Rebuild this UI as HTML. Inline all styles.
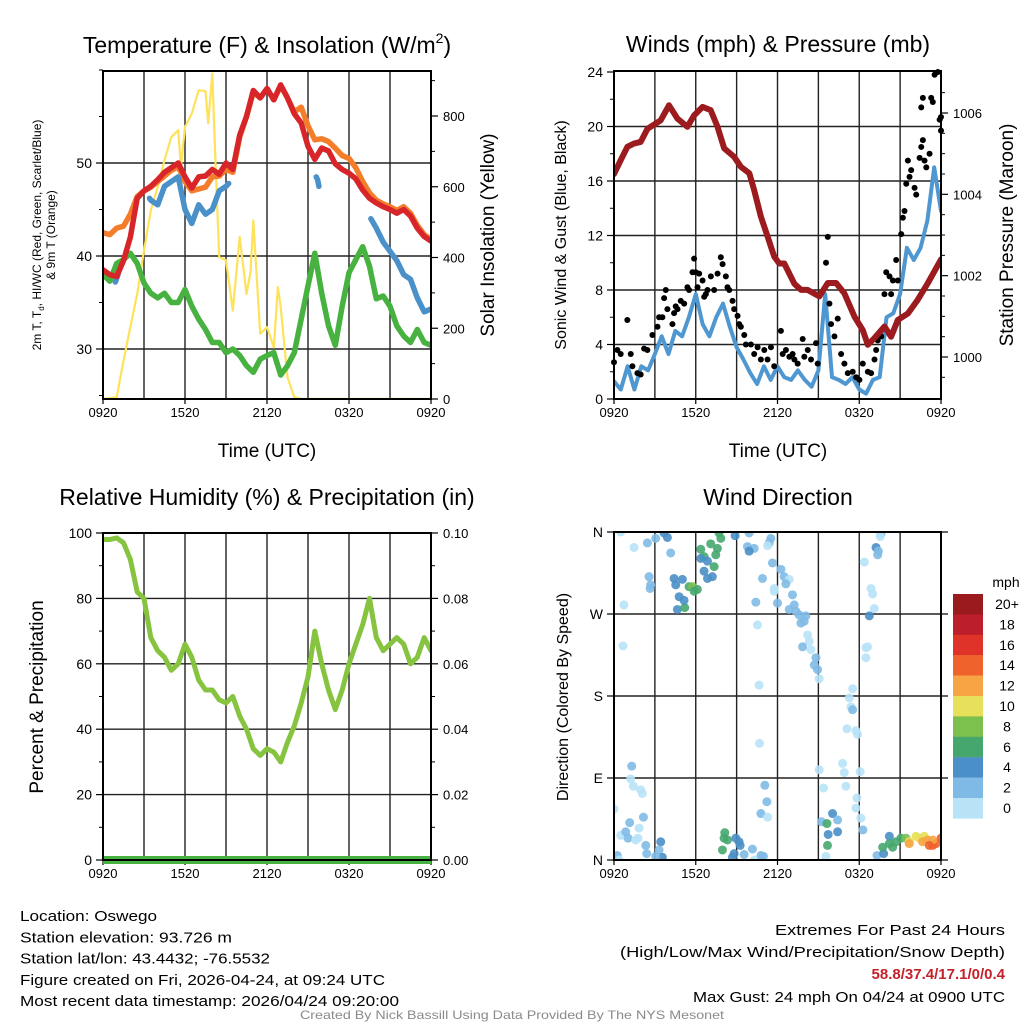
<!DOCTYPE html>
<html><head><meta charset="utf-8"><style>
html,body{margin:0;padding:0;background:#fff;}
svg{display:block;font-family:"Liberation Sans",Arial,sans-serif;}
</style></head><body>
<svg id="chart" width="1024" height="1024" viewBox="0 0 1024 1024" xmlns="http://www.w3.org/2000/svg">
<rect x="0" y="0" width="1024" height="1024" fill="#fff"/>
</svg>
<script>
// ---------- data ----------
const timeTicks = ["0920","1520","2120","0320","0920"];
const redT = [0,0.5,1,1.5,2,2.5,3,3.5,4,4.5,5,5.5,6,6.5,7,7.5,8,8.5,9,9.5,10,10.5,11,11.5,12,12.5,13,13.5,14,14.5,15,15.5,16,16.5,17,17.5,18,18.5,19,19.5,20,20.5,21,21.5,22,22.5,23,23.5,24];
const redV = [38.5,38.0,37.8,39.5,42,46.2,47,47.5,48.2,49,49.5,50.0,48.5,47.3,48.5,48.6,49.3,48.8,50.0,49.3,53,55,57.8,57,58,56.8,58.4,57,55.3,54.3,51.8,50.4,51.6,51.3,49.9,49.3,48.9,48.3,47.1,46.2,45.7,45.3,45,44.6,45,44.3,43,42.1,41.6];
const orangeV = [42.5,42.3,43,43.2,44.5,46.4,47,47.4,48,48.6,49.2,49.6,48,47,47.2,47.4,48.5,48.6,49.3,49,52.8,55,57.6,57,58,56.8,58.3,57,55.5,56,54,52.5,52.6,52.3,51.6,50.8,50.5,49.5,48,46.8,46,45.6,45.3,44.9,45.3,44.6,43.3,42.3,41.8];
const greenV = [38,37.3,39.2,39.6,40.3,39.2,37.1,36,35.5,36,35,35,36.4,34.6,33.2,32.1,30.7,30.7,29.6,30,29.3,28.2,27.5,28.9,29.3,29.6,27.2,28.2,29.6,33.2,36.8,40.3,36,32.5,30.4,34.6,38.2,39.6,41,38.9,35.4,35.7,34.6,32.5,31.4,30.7,32.1,30.7,30.4];
const blueSeg1T = [0.9,1.0,1.1];
const blueSeg1V = [37.2,37.6,38];
const blueSeg2T = [3.4,3.5,4,4.5,5,5.5,6,6.5,7,7.5,8,8.5,9,9.2];
const blueSeg2V = [46.2,46,45.5,47.5,48,48.5,45,43.5,45.5,44.5,45,47,47.5,47.8];
const blueSeg3T = [15.6,15.7,15.8];
const blueSeg3V = [48.5,48.2,47.5];
const blueSeg4T = [19.6,20,20.5,21,21.5,22,22.5,23,23.5,24];
const blueSeg4V = [44,43,41.5,40.5,39.5,38,37.5,35.5,34,34.3];
const solarT = [0,1,1.5,2,2.5,3,3.5,4,4.5,5,5.5,5.7,6,6.5,7,7.5,7.7,8,8.2,8.5,9,9.5,10,10.5,10.8,11,11.5,12,12.5,12.8,13,13.5,14,14.5,24];
const solarV = [0,5,108,203,297,420,533,599,675,740,760,655,769,807,873,870,780,920,700,401,392,250,458,297,360,505,184,203,146,316,259,61,5,0,0];
const presT = [0,0.49,0.98,1.47,1.96,2.45,3.43,4.04,4.66,5.39,5.88,6.5,7.1,7.6,8.09,8.82,9.31,9.93,10.29,10.78,11.27,11.76,12.13,12.5,13.24,13.73,14.2,15.07,15.69,16.3,16.9,17.65,18.26,18.63,19.1,19.85,20.34,20.83,21.57,22.3,23.04,24];
const presV = [1004.5,1004.84,1005.17,1005.25,1005.29,1005.61,1005.82,1006.19,1005.86,1005.66,1005.94,1006.15,1006.07,1005.66,1005.13,1004.92,1004.68,1004.52,1004.1,1003.45,1002.96,1002.47,1002.3,1002.3,1001.8,1001.65,1001.65,1001.49,1001.82,1001.82,1001.57,1000.99,1000.66,1000.3,1000.46,1000.75,1000.5,1000.91,1001.07,1001.41,1001.82,1002.4];
const windT = redT;
const windV = [1.3,0.7,2.4,0.7,2.4,2.1,3.3,4.6,3.3,5,4.6,6,7.7,5.5,4.6,6,7,5.3,3.8,2.9,1.9,1.1,2.4,1.4,2.4,1.6,1.4,2.1,1.4,0.9,2.1,7.7,1.6,1.4,1.1,1.6,0.7,0.4,1.4,1.6,6,6.3,7.7,11.1,10.2,11.1,13.1,17,13.8];
const gustT = [0,0.25,0.49,0.98,1.23,1.35,1.72,1.96,2.21,2.45,2.82,3.19,3.31,3.55,3.68,3.8,3.92,4.29,4.41,4.53,4.66,4.9,5.15,5.39,5.51,5.76,5.88,6.0,6.13,6.25,6.5,6.62,6.74,6.86,7.11,7.35,7.6,7.84,7.97,8.21,8.33,8.46,8.7,8.82,9.07,9.19,9.31,9.56,9.68,10.05,10.29,10.54,10.78,11.03,11.27,11.52,11.76,12.25,12.38,12.62,12.87,13.11,13.24,13.48,13.85,13.97,14.22,14.46,14.83,14.95,15.56,15.69,15.81,15.93,16.18,16.42,16.67,16.91,17.16,17.52,17.77,18.01,18.26,18.63,18.87,19.12,19.24,19.36,19.61,19.85,19.98,20.22,20.34,20.47,20.71,20.83,21.08,21.2,21.32,21.45,21.57,21.69,21.81,22.06,22.18,22.43,22.55,22.67,22.79,22.92,23.16,22.55,22.67,23.28,23.4,23.53,23.77,23.9,24.0,24.0];
const gustV = [2.7,3.6,3.3,5.8,3.3,2.4,1.9,1.8,3.7,3.6,4.7,5.3,6.0,6.0,7.4,8.0,6.6,5.5,6.3,6.8,6.6,7.2,7.0,8.2,8.0,9.3,10.3,9.3,8.2,9.2,8.7,7.5,7.7,8.0,9.0,8.0,9.2,10.4,9.9,9.0,8.2,8.0,7.2,6.6,6.1,5.5,5.3,4.7,4.0,4.0,3.3,3.8,2.9,3.6,2.9,3.8,2.4,5.0,3.3,3.6,3.1,3.3,2.9,2.6,4.4,3.1,3.6,2.9,4.1,2.6,10.0,11.9,7.0,5.5,4.6,5.9,3.3,2.6,1.9,2.0,1.6,1.4,2.6,2.0,1.9,2.9,3.6,4.3,4.6,7.7,9.3,9.0,7.7,8.7,10.2,8.7,12.1,13.3,13.8,15.8,17.5,16.3,16.8,15.5,15.0,17.7,18.5,19.0,17.5,17.0,18.0,21.4,22.1,22.1,21.8,23.8,24.0,20.5,19.7,20.7];
const rhV = [98,98,98.5,97,92,82,80,68,64,62,58,60,66,62,55,52,52,49,48,50,44,40,34,32,34,33,30,36,41,48,56,70,60,52,46,52,60,66,72,80,68,64,66,68,66,60,62,68,64];
const precipT = [0,24];
const precipV = [0,0];
const dirT = [0.49,1.47,2.45,3.06,3.67,3.92,4.16,2.57,2.69,2.65,0.73,4.41,4.53,5.02,4.78,4.65,5.19,5.14,5.51,5.76,5.88,6.12,6.37,6.61,6.37,6.86,7.1,7.35,6.61,6.86,7.22,7.59,7.47,7.71,7.84,8.89,9.92,9.8,10.29,9.92,11.51,11.39,11.27,11.63,12.25,12.49,12.86,12.61,10.9,11.76,11.76,12,10.41,13.1,13.23,12.86,13.35,13.59,14.08,13.72,13.96,10.53,14.21,14.33,14.45,13.84,14.82,14.7,14.94,15.06,10.65,0.66,17.51,17.27,17.39,17.51,17.1,17.76,17.88,10.68,15.06,16.78,16.9,18.07,17.02,17.83,17.76,18.12,18.27,15.38,15.23,15.63,16.04,16.41,16.41,15.72,15.67,15.55,11.07,11.22,10.78,11.27,1.3,1.22,1.42,1.96,2.08,0,2.16,1.15,0.49,0.86,1.03,1.84,1.76,1.59,2.33,2.4,0.24,0.37,3.43,3.31,3.55,3.06,8.13,8.08,8.33,7.96,8.94,9.18,9.26,8.82,8.69,9.55,10.16,10.29,10.78,10.97,19.3,19.79,19.72,20.21,20.21,20.45,20.7,21.06,21.43,21.67,22.16,22.41,22.78,23.02,22.65,23.39,23.63,24,23.39,23.14,21.67,19.59,19.54,19.23,19.4,19.35,18.37,18.86,18.98,19.1,18.74,18.49,18.61,18.49];
const dirDeg = [360,343,348,353,359,354,337,311,302,298,280,309,302,308,289,275,277,285,300,300,295,297,341,333,331,328,347,322,317,309,311,342,335,359,353,356,359,344,342,339,353,348,345,326,319,311,308,303,309,298,295,282,283,291,280,275,273,269,268,260,262,258,247,240,231,234,222,214,209,199,192,235,188,178,168,165,144,142,138,128,99,106,96,97,81,68,57,46,33,79,42,40,51,44,31,28,16,4,82,64,51,47,103,89,81,77,73,56,47,41,27,31,24,35,24,22,16,7,5,0,20,11,3,4,30,24,22,11,24,20,16,7,3,6,12,0,5,4,5,7,14,26,18,14,20,24,24,20,26,24,26,22,20,16,18,24,22,16,18,358,355,343,339,335,327,298,292,276,268,233,234,222];
const dirSpd = [1,1,3,3,5,5,3,3,3,3,1,5,5,5,5,5,7,5,7,9,7,7,7,7,5,5,7,7,5,5,5,7,7,7,7,5,3,3,3,5,3,3,1,3,3,3,1,3,3,1,1,3,3,3,3,3,3,3,3,3,3,1,1,1,1,3,3,3,3,1,1,1,1,1,1,3,1,1,1,1,1,1,1,1,1,1,1,1,3,1,3,7,5,3,5,5,7,1,3,3,3,1,3,1,1,1,1,1,3,3,1,3,3,1,1,1,3,3,3,1,5,3,5,3,7,7,7,7,5,5,5,5,5,3,3,1,3,3,3,5,7,5,7,7,7,7,9,11,11,11,11,13,13,15,15,15,13,15,13,3,1,5,3,3,1,1,1,1,5,1,1,1];
const speedLabels = ["20+","18","16","14","12","10","8","6","4","2","0"];
const speedColors = ["#9a1a1e","#bd1e2b","#df3329","#f0622b","#f7a444","#e7e05a","#7cc04e","#46a76e","#4a8fc7","#7fbae6","#b8e3f7"];
const tempTicks = [30,40,50];
const solarTicks = [0,200,400,600,800];
const windTicks = [0,4,8,12,16,20,24];
const presTicks = [1000,1002,1004,1006];
const rhTicks = [0,20,40,60,80,100];
const precipTicks = ["0.00","0.02","0.04","0.06","0.08","0.10"];
const dirTicks = ["N","E","S","W","N"];

// ---------- helpers ----------
const NS = "http://www.w3.org/2000/svg";
const svg = document.getElementById("chart");
function el(tag, attrs, parent){const e=document.createElementNS(NS,tag);for(const k in attrs)e.setAttribute(k,attrs[k]);(parent||svg).appendChild(e);return e;}
function txt(s, attrs, parent){const e=el("text",attrs,parent);e.textContent=s;return e;}
function lin(d0,d1,r0,r1){return v=>r0+(v-d0)/(d1-d0)*(r1-r0);}
function pathFrom(ts,vs,xs,ys){return ts.map((t,i)=>(i?"L":"M")+xs(t).toFixed(1)+","+ys(vs[i]).toFixed(1)).join("");}

function panel(name,L,T,R,B,hLines){
  const g=el("g",{});
  
  
  const cp=el("clipPath",{id:"clip-"+name},g);el("rect",{x:L,y:T,width:R-L,height:B-T},cp);
  for(let i=1;i<8;i++){const x=L+(R-L)*i/8;const l=el("line",{x1:x,x2:x,y1:T,y2:B,stroke:"#222","stroke-width":1.4},g);
    }
  hLines.forEach(y=>{const l=el("line",{x1:L,x2:R,y1:y,y2:y,stroke:"#222","stroke-width":1.4},g);
    });
  timeTicks.forEach((s,i)=>{const x=L+(R-L)*i/4;
    const t=txt(s,{x:x,y:B+18,"font-size":13,"text-anchor":"middle",fill:"#000"},g);
    
    el("line",{x1:x,x2:x,y1:B,y2:B+5,stroke:"#000","stroke-width":1.2},g);});
  return g;
}
function frame(g,L,T,R,B){const r=el("rect",{x:L,y:T,width:R-L,height:B-T,fill:"none",stroke:"#000","stroke-width":2},g);
  }
function leftTicks(g,L,vals,ys,labels,minor){
  vals.forEach((v,i)=>{const y=ys(v);el("line",{x1:L-7,x2:L,y1:y,y2:y,stroke:"#000","stroke-width":1.2},g);
    const t=txt(labels?labels[i]:String(v),{x:L-11,y:y+5,"font-size":14,"text-anchor":"end"},g);
    });
  (minor||[]).forEach(v=>{const y=ys(v);el("line",{x1:L-4,x2:L,y1:y,y2:y,stroke:"#000","stroke-width":1},g);});
}
function rightTicks(g,R,vals,ys,labels,minor){
  vals.forEach((v,i)=>{const y=ys(v);el("line",{x1:R,x2:R+7,y1:y,y2:y,stroke:"#000","stroke-width":1.2},g);
    const t=txt(labels?labels[i]:String(v),{x:R+12,y:y+5,"font-size":13,"text-anchor":"start"},g);
    });
  (minor||[]).forEach(v=>{const y=ys(v);el("line",{x1:R,x2:R+4,y1:y,y2:y,stroke:"#000","stroke-width":1},g);});
}
function rotText(g,s,x,y,size,name){const t=txt(s,{x:0,y:0,"font-size":size,"text-anchor":"middle",transform:`translate(${x},${y}) rotate(-90)`},g);
  return t;}
function title(g,s,x,y,name){const t=txt(s,{x:x,y:y,"font-size":23,"text-anchor":"middle"},g);return t;}
function line(g,clip,ts,vs,xs,ys,color,w,name){const p=el("path",{d:pathFrom(ts,vs,xs,ys),fill:"none",stroke:color,"stroke-width":w,"stroke-linejoin":"round","stroke-linecap":"round","clip-path":"url(#clip-"+clip+")"},g);
  return p;}

// ---------- panel 1: temperature ----------
{
const L=103,T=71,R=431,B=399;
const xs=lin(0,24,L,R), ys=lin(30,50,349,163), ysol=lin(0,800,399,116);
const g=panel("temperature-panel",L,T,R,B,tempTicks.map(ys));
line(g,"temperature-panel",solarT,solarV,xs,ysol,"#fde25a",2.2,"solar-insolation-line");
line(g,"temperature-panel",redT,orangeV,xs,ys,"#f47d2a",5.5,"9m-temperature-line");
line(g,"temperature-panel",redT,greenV,xs,ys,"#47b23f",5.5,"dewpoint-line");
line(g,"temperature-panel",blueSeg1T,blueSeg1V,xs,ys,"#4a90c9",5.5,"windchill-line-1");
line(g,"temperature-panel",blueSeg2T,blueSeg2V,xs,ys,"#4a90c9",5.5,"windchill-line-2");
line(g,"temperature-panel",blueSeg3T,blueSeg3V,xs,ys,"#4a90c9",5.5,"windchill-line-3");
line(g,"temperature-panel",blueSeg4T,blueSeg4V,xs,ys,"#4a90c9",5.5,"windchill-line-4");
line(g,"temperature-panel",redT,redV,xs,ys,"#d7252a",5.5,"2m-temperature-line");
frame(g,L,T,R,B);
leftTicks(g,L,tempTicks,ys,null,[25,35,45,55,60]);
rightTicks(g,R,solarTicks,ysol,null,[100,300,500,700,900]);
const tt=txt("",{x:267,y:53,"font-size":23,"text-anchor":"middle"},g);

tt.innerHTML='Temperature (F) &amp; Insolation (W/m<tspan font-size="14" dy="-10">2</tspan><tspan dy="10">)</tspan>';
const a=txt("",{x:0,y:0,"font-size":12,"text-anchor":"middle",transform:"translate(41,235) rotate(-90)"},g);

a.innerHTML='2m T, T<tspan font-size="8" dy="3">d</tspan><tspan dy="-3">, HI/WC (Red, Green, Scarlet/Blue)</tspan>';
rotText(g,"& 9m T (Orange)",55,235,12,"left-axis-title-line2");
rotText(g,"Solar Insolation (Yellow)",494,235,19,"right-axis-title");
const xt=txt("Time (UTC)",{x:267,y:458,"font-size":19,"text-anchor":"middle"},g);
xt.setAttribute('y',457);
}

// ---------- panel 2: winds ----------
{
const L=614,T=71,R=941,B=399;
const xs=lin(0,24,L,R), ys=lin(0,24,399,72), yp=lin(1000,1006,357,113);
const g=panel("winds-panel",L,T,R,B,windTicks.map(ys).filter(y=>y>75&&y<395));
line(g,"winds-panel",windT,windV,xs,ys,"#4f97d1",4,"sonic-wind-line");
gustT.forEach((t,i)=>{const c=el("circle",{cx:xs(t),cy:ys(gustV[i]),r:3,fill:"#000"},g);
  });
line(g,"winds-panel",presT,presV,xs,yp,"#9b1b1e",6,"pressure-line");
frame(g,L,T,R,B);
leftTicks(g,L,windTicks,ys,null,[2,6,10,14,18,22]);
rightTicks(g,R,presTicks,yp,null,[999.5,1000.5,1001,1001.5,1002.5,1003,1003.5,1004.5,1005,1005.5,1006.5]);
title(g,"Winds (mph) & Pressure (mb)",778,52,"winds-title");
rotText(g,"Sonic Wind & Gust (Blue, Black)",566,235,16,"left-axis-title");
rotText(g,"Station Pressure (Maroon)",1013,235,19,"right-axis-title");
const xt=txt("Time (UTC)",{x:778,y:457,"font-size":19,"text-anchor":"middle"},g);
}

// ---------- panel 3: RH ----------
{
const L=103,T=533,R=431,B=860;
const xs=lin(0,24,L,R), ys=lin(0,100,860,533), yp=lin(0,0.10,860,533);
const g=panel("humidity-panel",L,T,R,B,rhTicks.map(ys).filter(y=>y>536&&y<857));
line(g,"humidity-panel",redT,rhV,xs,ys,"#86c440",5,"relative-humidity-line");
const p=el("path",{d:pathFrom(precipT,precipV,xs,yp),fill:"none",stroke:"#47b23f","stroke-width":8},g);

frame(g,L,T,R,B);
leftTicks(g,L,rhTicks,ys,null,[10,30,50,70,90]);
rightTicks(g,R,[0,0.02,0.04,0.06,0.08,0.10],yp,precipTicks,[0.01,0.03,0.05,0.07,0.09]);
title(g,"Relative Humidity (%) & Precipitation (in)",267,505,"humidity-title");
rotText(g,"Percent & Precipitation",43,697,19,"left-axis-title");
}

// ---------- panel 4: wind direction ----------
{
const L=614,T=532,R=941,B=860;
const xs=lin(0,24,L,R), ys=lin(0,360,860,532);
const g=panel("wind-direction-panel",L,T,R,B,[90,180,270].map(ys));
dirT.forEach((t,i)=>{const k=Math.max(0,10-Math.min(10,Math.floor(dirSpd[i]/2)));
  const c=el("circle",{cx:xs(t),cy:ys(dirDeg[i]),r:4.5,fill:speedColors[k],"fill-opacity":0.9,"clip-path":"url(#clip-wind-direction-panel)"},g);
  });
frame(g,L,T,R,B);
leftTicks(g,L,[0,90,180,270,360],ys,dirTicks);
[0,90,180,270,360].forEach(v=>el("line",{x1:R,x2:R+7,y1:ys(v),y2:ys(v),stroke:"#000","stroke-width":1.2},g));
title(g,"Wind Direction",778,505,"wind-direction-title");
rotText(g,"Direction (Colored By Speed)",568,697,16,"left-axis-title");
const lg=el("g",{},g);


const m=txt("mph",{x:1006,y:587,"font-size":14,"text-anchor":"middle"},lg);
speedColors.forEach((c,i)=>{const y=594+i*20.4;
  const r=el("rect",{x:953,y:y,width:30,height:20.6,fill:c},lg);
  const t=txt(speedLabels[i],{x:1007,y:y+15,"font-size":14,"text-anchor":"middle"},lg);});
}

// ---------- footer text ----------
{
const g=el("g",{});


const lines=["Location: Oswego","Station elevation: 93.726 m","Station lat/lon: 43.4432; -76.5532","Figure created on Fri, 2026-04-24, at 09:24 UTC","Most recent data timestamp: 2026/04/24 09:20:00"];
const lens=[137,212,250,365,379];
lines.forEach((s,i)=>{const t=txt(s,{x:20,y:921+i*21.3,"font-size":15,textLength:lens[i],lengthAdjust:"spacingAndGlyphs"},g);
  });
const g2=el("g",{});


const a=txt("Extremes For Past 24 Hours",{x:1005,y:935,"font-size":15,"text-anchor":"end",textLength:230,lengthAdjust:"spacingAndGlyphs"},g2);
const b=txt("(High/Low/Max Wind/Precipitation/Snow Depth)",{x:1005,y:957,"font-size":15,"text-anchor":"end",textLength:385,lengthAdjust:"spacingAndGlyphs"},g2);
const c=txt("58.8/37.4/17.1/0/0.4",{x:1005,y:979,"font-size":15,"font-weight":"bold","text-anchor":"end",fill:"#c4222a"},g2);
const d=txt("Max Gust: 24 mph On 04/24 at 0900 UTC",{x:1005,y:1002,"font-size":15,"text-anchor":"end",textLength:312,lengthAdjust:"spacingAndGlyphs"},g2);
const f=txt("Created By Nick Bassill Using Data Provided By The NYS Mesonet",{x:512,y:1019,"font-size":12,"text-anchor":"middle",fill:"#8a8a8a",textLength:424,lengthAdjust:"spacingAndGlyphs"});

}
</script>
</body></html>
